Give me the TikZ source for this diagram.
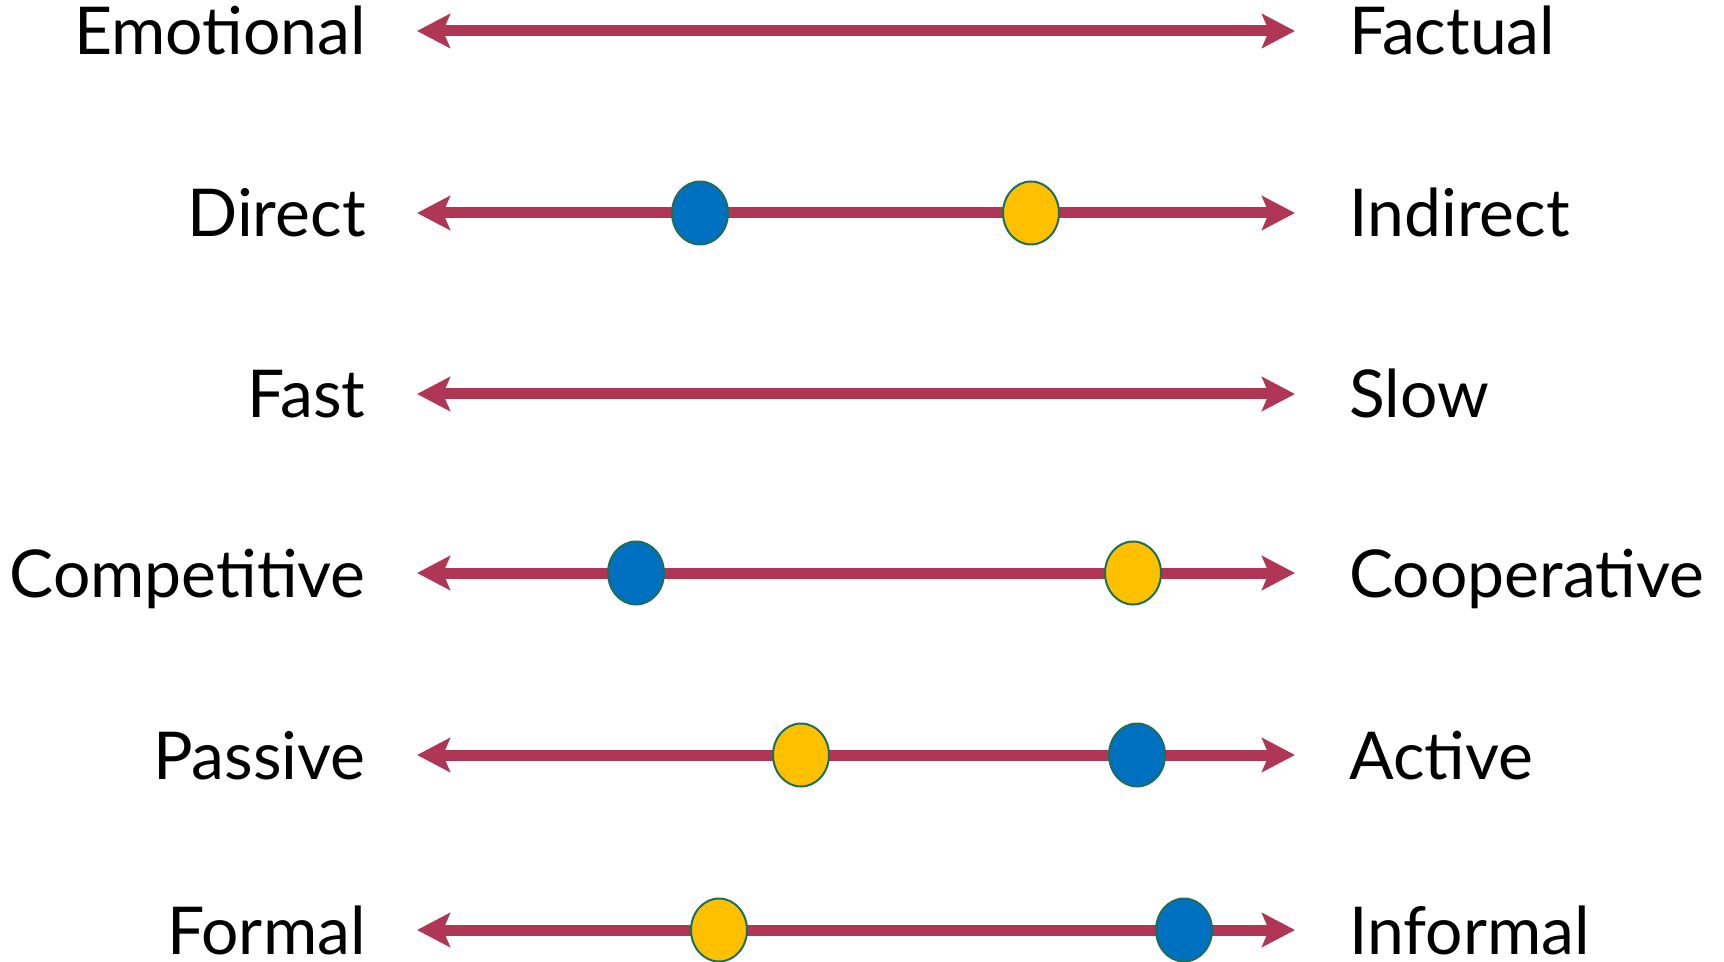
\documentclass[tikz,border=0pt]{standalone}
\usepackage{fontspec}
\setmainfont{Lato}
\usetikzlibrary{arrows.meta,shapes.geometric}
\definecolor{axisred}{RGB}{176,54,86}
\definecolor{dotblue}{RGB}{0,112,192}
\definecolor{dotyellow}{RGB}{255,192,0}
\definecolor{dotrim}{RGB}{30,110,90}
\tikzset{
  axis/.style={axisred,line width=5.5pt,
    {Stealth[length=16.5pt,width=17pt,inset=3.5pt]}-{Stealth[length=16.5pt,width=17pt,inset=3.5pt]}},
  lft/.style={anchor=base east,inner sep=0pt,font=\fontsize{33}{40}\selectfont},
  rgt/.style={anchor=base west,inner sep=0pt,font=\fontsize{33}{40}\selectfont},
  spot/.style={ellipse,draw=dotrim,line width=1pt,minimum width=28pt,minimum height=31.5pt,inner sep=0pt},
}
\begin{document}
\begin{tikzpicture}[x=0.5pt,y=-0.5pt]
      \useasboundingbox (0,0) rectangle (1724,962);
      % axis ends
      \coordinate (emo-l) at (417,31);  \coordinate (emo-r) at (1295,31);
      \coordinate (dir-l) at (417,213); \coordinate (dir-r) at (1295,213);
      \coordinate (fas-l) at (417,394); \coordinate (fas-r) at (1295,394);
      \coordinate (com-l) at (417,573); \coordinate (com-r) at (1295,573);
      \coordinate (pas-l) at (417,755); \coordinate (pas-r) at (1295,755);
      \coordinate (for-l) at (417,930); \coordinate (for-r) at (1295,930);
      \draw[axis] (emo-l)--(emo-r);
      \draw[axis] (dir-l)--(dir-r);
      \draw[axis] (fas-l)--(fas-r);
      \draw[axis] (com-l)--(com-r);
      \draw[axis] (pas-l)--(pas-r);
      \draw[axis] (for-l)--(for-r);
      % labels
      \node[lft] (emo) at (366,55){Emotional};   \node[rgt] (fac) at (1349,55){Factual};
      \node[lft] (dir) at (366,237){Direct};     \node[rgt] (ind) at (1349,237){Indirect};
      \node[lft] (fas) at (366,418){Fast};       \node[rgt] (slo) at (1349,418){Slow};
      \node[lft] (com) at (366,597){Competitive};\node[rgt] (coo) at (1349,597){Cooperative};
      \node[lft] (pas) at (366,779){Passive};    \node[rgt] (act) at (1349,779){Active};
      \node[lft] (for) at (366,954){Formal};     \node[rgt] (inf) at (1349,954){Informal};
      % dots
      \node[spot,fill=dotblue] (dir-b) at (700,213){};
      \node[spot,fill=dotyellow] (dir-y) at (1031,213){};
      \node[spot,fill=dotblue] (com-b) at (636,573){};
      \node[spot,fill=dotyellow] (com-y) at (1133,573){};
      \node[spot,fill=dotyellow] (pas-y) at (801,755){};
      \node[spot,fill=dotblue] (pas-b) at (1137,755){};
      \node[spot,fill=dotyellow] (for-y) at (719,930){};
      \node[spot,fill=dotblue] (for-b) at (1184,930){};
\end{tikzpicture}
\end{document}
